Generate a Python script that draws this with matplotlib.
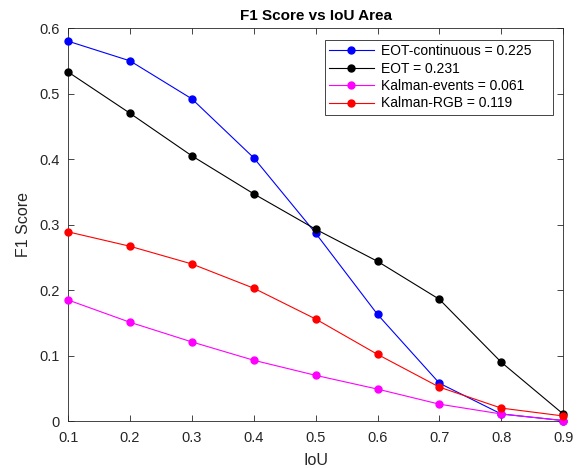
import matplotlib
matplotlib.use("Agg")
import matplotlib.pyplot as plt

plt.rcParams['font.family'] = ['Liberation Sans', 'DejaVu Sans']

iou = [0.1, 0.2, 0.3, 0.4, 0.5, 0.6, 0.7, 0.8, 0.9]
eot_cont = [0.580, 0.550, 0.492, 0.402, 0.287, 0.163, 0.058, 0.011, 0.001]
eot = [0.533, 0.470, 0.405, 0.347, 0.293, 0.244, 0.186, 0.090, 0.011]
kalman_events = [0.185, 0.151, 0.121, 0.093, 0.070, 0.049, 0.026, 0.011, 0.001]
kalman_rgb = [0.289, 0.267, 0.240, 0.203, 0.156, 0.102, 0.052, 0.020, 0.008]

labels = ['EOT-continuous = 0.225', 'EOT = 0.231', 'Kalman-events = 0.061', 'Kalman-RGB = 0.119']
colors = ['#0000ff', '#000000', '#ff00ff', '#ff0000']
series = [eot_cont, eot, kalman_events, kalman_rgb]

fig = plt.figure(figsize=(5.77, 4.68), dpi=100)
ax = fig.add_axes([0.118, 0.100, 0.858, 0.840])

for ys, c, lab in zip(series, colors, labels):
    ax.plot(iou, ys, '-o', color=c, markerfacecolor=c, markeredgecolor=c,
            markersize=5, linewidth=0.8, label=lab, clip_on=False, zorder=3)

ax.set_xlim(0.1, 0.9)
ax.set_ylim(0, 0.6)
ax.set_xticks([0.1, 0.2, 0.3, 0.4, 0.5, 0.6, 0.7, 0.8, 0.9])
ax.set_xticklabels(['0.1', '0.2', '0.3', '0.4', '0.5', '0.6', '0.7', '0.8', '0.9'])
ax.set_yticks([0, 0.1, 0.2, 0.3, 0.4, 0.5, 0.6])
ax.set_yticklabels(['0', '0.1', '0.2', '0.3', '0.4', '0.5', '0.6'])
ax.tick_params(direction='in', length=4, width=0.6, labelsize=10.5, colors='#262626',
               top=True, right=True, labelcolor='#262626')
ax.tick_params(axis='x', pad=7)
ax.tick_params(axis='y', pad=6)
for s in ax.spines.values():
    s.set_linewidth(0.6)
    s.set_color('#262626')

ax.set_xlabel('IoU', fontsize=11.5, color='#262626', labelpad=6)
ax.set_ylabel('F1 Score', fontsize=11.5, color='#262626', labelpad=6)
ax.set_title('F1 Score vs IoU Area', fontsize=11, fontweight='bold', pad=6)

leg = ax.legend(loc='upper left', bbox_to_anchor=(0.519, 0.5, 0.461, 0.47), mode='expand',
                fontsize=10, frameon=True, fancybox=False, edgecolor='#262626', framealpha=1,
                handlelength=3.2, handletextpad=0.55, borderpad=0.3, labelspacing=0.25,
                borderaxespad=0)
leg.get_frame().set_linewidth(0.6)

fig.savefig('out.png', dpi=100)
